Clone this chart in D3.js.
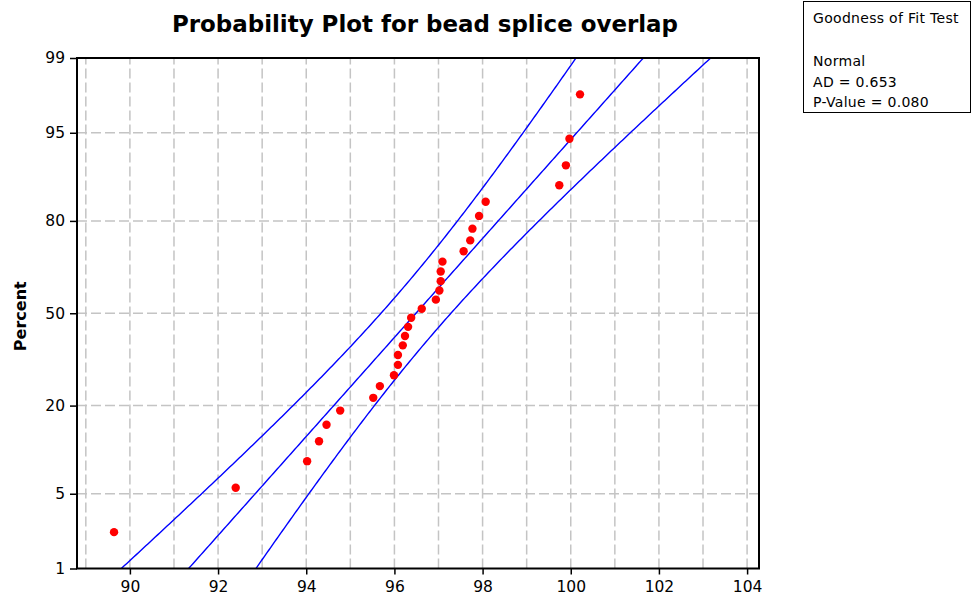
<!DOCTYPE html>
<html>
<head>
<meta charset="utf-8">
<script src="https://cdn.jsdelivr.net/npm/d3@7/dist/d3.min.js"></script>
<style>
  html, body { margin: 0; padding: 0; background: #ffffff; }
  svg { display: block; }
</style>
</head>
<body>
<svg id="chart" width="972" height="597"></svg>
<script>
// ---------------- data ----------------
const titleText = "Probability Plot for bead splice overlap";
const yAxisTitle = "Percent";
const overlapValues = [
  89.64, 92.40, 94.02, 94.29, 94.46, 94.77, 95.52, 95.67, 95.99, 96.08,
  96.08, 96.19, 96.24, 96.31, 96.38, 96.62, 96.94, 97.02, 97.05, 97.05,
  97.09, 97.57, 97.72, 97.77, 97.92, 98.07, 99.74, 99.89, 99.97, 100.21
];
const percentTicks = [1, 5, 20, 50, 80, 95, 99];
const percentGrid = [5, 20, 50, 80, 95];
const xTickLabels = [90, 92, 94, 96, 98, 100, 102, 104];
const xGridValues = [89, 90, 91, 92, 93, 94, 95, 96, 97, 98, 99, 100, 101, 102, 103, 104];
const legendLines = ["Goodness of Fit Test", "", "Normal", "AD = 0.653", "P-Value = 0.080"];

// ---------------- helpers ----------------
function probit(p) {
  const a=[-3.969683028665376e+01,2.209460984245205e+02,-2.759285104469687e+02,1.383577518672690e+02,-3.066479806614716e+01,2.506628277459239e+00];
  const b=[-5.447609879822406e+01,1.615858368580409e+02,-1.556989798598866e+02,6.680131188771972e+01,-1.328068155288572e+01];
  const c=[-7.784894002430293e-03,-3.223964580411365e-01,-2.400758277161838e+00,-2.549732539343734e+00,4.374664141464968e+00,2.938163982698783e+00];
  const d=[7.784695709041462e-03,3.224671290700398e-01,2.445134137142996e+00,3.754408661907416e+00];
  const plow = 0.02425, phigh = 1 - plow;
  if (p < plow) {
    const q = Math.sqrt(-2 * Math.log(p));
    return (((((c[0]*q+c[1])*q+c[2])*q+c[3])*q+c[4])*q+c[5]) / ((((d[0]*q+d[1])*q+d[2])*q+d[3])*q+1);
  }
  if (p > phigh) {
    const q = Math.sqrt(-2 * Math.log(1 - p));
    return -(((((c[0]*q+c[1])*q+c[2])*q+c[3])*q+c[4])*q+c[5]) / ((((d[0]*q+d[1])*q+d[2])*q+d[3])*q+1);
  }
  const q = p - 0.5, r = q * q;
  return (((((a[0]*r+a[1])*r+a[2])*r+a[3])*r+a[4])*r+a[5])*q / (((((b[0]*r+b[1])*r+b[2])*r+b[3])*r+b[4])*r+1);
}

// ---------------- layout ----------------
const svg = d3.select("#chart");
const plot = { left: 77, right: 759, top: 58, bottom: 568.5 };
const FONT = "'DejaVu Sans', Verdana, sans-serif";

const x = d3.scaleLinear().domain([88.8, 104.27]).range([plot.left, plot.right]);
const zMax = probit(0.99);
const y = d3.scaleLinear().domain([-zMax, zMax]).range([plot.bottom, plot.top]);

// fit
const n = overlapValues.length;
const mean = d3.mean(overlapValues);
const sd = d3.deviation(overlapValues);
const zCrit = 1.959964;

// clip path
svg.append("defs").append("clipPath").attr("id", "plotClip")
  .append("rect")
  .attr("x", plot.left).attr("y", plot.top)
  .attr("width", plot.right - plot.left).attr("height", plot.bottom - plot.top);

// ---------------- grid ----------------
const grid = svg.append("g").attr("stroke", "#c4c4c4").attr("stroke-width", 1.5)
  .attr("stroke-dasharray", "10,4").attr("fill", "none");
grid.selectAll("line.v").data(xGridValues).join("line")
  .attr("class", "v")
  .attr("x1", d => x(d)).attr("x2", d => x(d))
  .attr("y1", plot.bottom).attr("y2", plot.top);
grid.selectAll("line.h").data(percentGrid).join("line")
  .attr("class", "h")
  .attr("y1", d => y(probit(d / 100))).attr("y2", d => y(probit(d / 100)))
  .attr("x1", plot.left).attr("x2", plot.right);

// ---------------- fitted line and confidence bands ----------------
const zs = d3.range(-2.8, 2.8001, 0.02);
const fitLine = zs.map(z => ({ v: mean + z * sd, z }));
const halfW = z => zCrit * sd * Math.sqrt(1 / n + (z * z) / (2 * n));
const lowerBand = zs.map(z => ({ v: mean + z * sd - halfW(z), z }));
const upperBand = zs.map(z => ({ v: mean + z * sd + halfW(z), z }));

const line = d3.line().x(d => x(d.v)).y(d => y(d.z));
const lines = svg.append("g").attr("clip-path", "url(#plotClip)");
[lowerBand, fitLine, upperBand].forEach(series => {
  lines.append("path")
    .datum(series)
    .attr("d", line)
    .attr("fill", "none")
    .attr("stroke", "#0000ff")
    .attr("stroke-width", 1.4);
});

// ---------------- points ----------------
const pts = overlapValues.map((v, i) => ({ v, z: probit((i + 1 - 0.3) / (n + 0.4)) }));
svg.append("g").attr("clip-path", "url(#plotClip)")
  .selectAll("circle").data(pts).join("circle")
  .attr("cx", d => x(d.v)).attr("cy", d => y(d.z))
  .attr("r", 4.2).attr("fill", "#ff0000");

// ---------------- axes ----------------
const xAxis = d3.axisBottom(x).tickValues(xTickLabels).tickSize(6).tickPadding(5).tickFormat(d3.format("d"));
const gx = svg.append("g").attr("transform", `translate(0,${plot.bottom})`).call(xAxis);
gx.select(".domain").remove();
gx.selectAll(".tick line").attr("stroke", "#000").attr("stroke-width", 1.5);
gx.selectAll(".tick text").attr("font-family", FONT).attr("font-size", 15.5).attr("fill", "#000")
  .attr("dy", "0.8em");

const yAxis = d3.axisLeft(y)
  .tickValues(percentTicks.map(p => probit(p / 100)))
  .tickFormat((d, i) => percentTicks[i])
  .tickSize(7).tickPadding(5);
const gy = svg.append("g").attr("transform", `translate(${plot.left},0)`).call(yAxis);
gy.select(".domain").remove();
gy.selectAll(".tick line").attr("stroke", "#000").attr("stroke-width", 1.5);
gy.selectAll(".tick text").attr("font-family", FONT).attr("font-size", 15.5).attr("fill", "#000");

// frame
svg.append("rect")
  .attr("x", plot.left).attr("y", plot.top)
  .attr("width", plot.right - plot.left).attr("height", plot.bottom - plot.top)
  .attr("fill", "none").attr("stroke", "#000").attr("stroke-width", 2);

// ---------------- titles ----------------
const title = svg.append("text")
  .attr("x", 425).attr("y", 32)
  .attr("text-anchor", "middle")
  .attr("font-family", FONT).attr("font-weight", "bold").attr("font-size", 23)
  .attr("fill", "#000")
  .text(titleText);
const targetW = 506;
const tw = title.node().getComputedTextLength();
if (tw > targetW) title.attr("textLength", targetW).attr("lengthAdjust", "spacingAndGlyphs");

svg.append("text")
  .attr("transform", `translate(26,${(plot.top + plot.bottom) / 2 + 3}) rotate(-90)`)
  .attr("text-anchor", "middle")
  .attr("font-family", FONT).attr("font-weight", "bold").attr("font-size", 16)
  .attr("fill", "#000")
  .text(yAxisTitle);

// ---------------- goodness of fit box ----------------
const box = svg.append("g");
box.append("rect")
  .attr("x", 803.5).attr("y", 1.5).attr("width", 167).attr("height", 111)
  .attr("fill", "#fff").attr("stroke", "#000").attr("stroke-width", 1);
const lineY = [23, 45, 66, 87, 107];
box.selectAll("text").data(legendLines).join("text")
  .attr("x", 813).attr("y", (d, i) => lineY[i])
  .attr("font-family", FONT).attr("font-size", 14).attr("fill", "#000")
  .attr("letter-spacing", 0.3)
  .text(d => d);
</script>
</body>
</html>
